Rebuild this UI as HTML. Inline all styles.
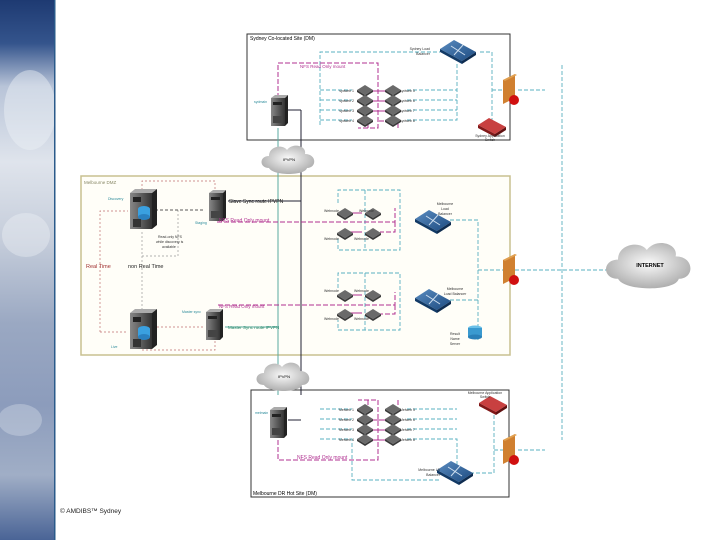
<!DOCTYPE html>
<html><head><meta charset="utf-8"><style>
html,body{margin:0;padding:0;background:#fff;width:720px;height:540px;overflow:hidden}
svg{display:block;font-family:"Liberation Sans",sans-serif}
</style></head><body>
<svg width="720" height="540" viewBox="0 0 720 540" xmlns="http://www.w3.org/2000/svg">
<defs>
<linearGradient id="sky" x1="0" y1="0" x2="0" y2="1">
<stop offset="0" stop-color="#1e3a72"/><stop offset="0.08" stop-color="#34548c"/>
<stop offset="0.16" stop-color="#b8c4d8"/><stop offset="0.3" stop-color="#dfe4ec"/>
<stop offset="0.45" stop-color="#c4ccda"/><stop offset="0.6" stop-color="#9aa8c2"/>
<stop offset="0.75" stop-color="#8c9cbc"/><stop offset="0.88" stop-color="#a0aec6"/><stop offset="1" stop-color="#4a6496"/>
</linearGradient>
<radialGradient id="cl" cx="0.5" cy="0.45" r="0.6"><stop offset="0" stop-color="#fafafa"/><stop offset="1" stop-color="#a8a8a8"/></radialGradient>
<linearGradient id="bl" x1="0" y1="0" x2="1" y2="1"><stop offset="0" stop-color="#5a8cc0"/><stop offset="1" stop-color="#1c4a80"/></linearGradient>
<linearGradient id="sv" x1="0" y1="0" x2="1" y2="0"><stop offset="0" stop-color="#888"/><stop offset="1" stop-color="#333"/></linearGradient>
<g id="sw"><polygon points="-8,0 0,-5 8,0 0,5" fill="#6a6a6a"/><polygon points="-8,0 0,5 8,0 8,2 0,7 -8,2" fill="#3a3a3a"/></g>
<g id="rt"><polygon points="-18,-3 -4,-12 18,0 4,9" fill="url(#bl)"/><polygon points="-18,-3 4,9 4,12 -18,0" fill="#123a66"/><polygon points="4,9 18,0 18,3 4,12" fill="#0e2c50"/><path d="M-7,-6 L7,3 M-4,3 L5,-7" stroke="#cde" stroke-width="1"/></g>
<g id="rr"><polygon points="-14,-2 -3,-9 14,0 3,7" fill="#c84040"/><polygon points="-14,-2 3,7 3,10 -14,1" fill="#801818"/><polygon points="3,7 14,0 14,3 3,10" fill="#601010"/></g>
<g id="srv"><rect x="-7" y="-14" width="14" height="28" fill="url(#sv)"/><polygon points="-7,-14 -3,-17 10,-17 7,-14" fill="#aaa"/><polygon points="7,-14 10,-17 10,11 7,14" fill="#222"/><rect x="-5" y="-10" width="9" height="3" fill="#222"/><rect x="-5" y="4" width="9" height="7" fill="#444"/></g>
<g id="dbs"><rect x="-11" y="-18" width="22" height="36" fill="url(#sv)"/><polygon points="-11,-18 -6,-22 16,-22 11,-18" fill="#aaa"/><polygon points="11,-18 16,-22 16,14 11,18" fill="#222"/><ellipse cx="3" cy="-2" rx="6" ry="3" fill="#3aa0e0"/><rect x="-3" y="-2" width="12" height="8" fill="#3aa0e0"/><ellipse cx="3" cy="6" rx="6" ry="3" fill="#2a80c0"/><rect x="-8" y="-14" width="8" height="5" fill="#222"/><rect x="-8" y="8" width="8" height="8" fill="#333"/></g>
<g id="fw"><polygon points="-7,-10 5,-16 5,8 -7,14" fill="#d08030"/><polygon points="-7,-10 5,-16 7,-15 -5,-9" fill="#e0a050"/><circle cx="4" cy="10" r="5" fill="#d01010"/></g>
<g id="cloud"><path d="M-20,8 C-30,8 -30,-4 -20,-4 C-20,-14 -6,-16 -2,-10 C4,-18 18,-14 16,-6 C28,-6 28,8 18,8 C16,16 -16,16 -20,8 Z" fill="url(#cl)"/></g>
</defs>
<rect x="0" y="0" width="54" height="540" fill="url(#sky)"/>
<ellipse cx="30" cy="110" rx="26" ry="40" fill="#eef1f6" opacity="0.45"/>
<ellipse cx="26" cy="235" rx="24" ry="22" fill="#f4f6fa" opacity="0.35"/>
<ellipse cx="20" cy="420" rx="22" ry="16" fill="#dfe5ef" opacity="0.35"/>
<rect x="54" y="0" width="1.5" height="540" fill="#2a5a8a"/>
<text x="60" y="513" font-size="6.5" fill="#222">© AMDIBS™ Sydney</text>

<rect x="247" y="34" width="263" height="106" fill="none" stroke="#333" stroke-width="1"/>
<text x="250" y="40" font-size="5" fill="#000">Sydney Co-located Site (DM)</text>
<rect x="81" y="176" width="429" height="179" fill="#fffef8" stroke="#c8c090" stroke-width="1.5"/>
<text x="84" y="184" font-size="4.5" fill="#886">Melbourne DMZ</text>
<rect x="251" y="390" width="258" height="107" fill="none" stroke="#333" stroke-width="1"/>
<text x="253" y="495" font-size="5" fill="#000">Melbourne DR Hot Site (DM)</text>

<line x1="278" y1="128" x2="278" y2="395" stroke="#5aaaa0" stroke-width="1"/>
<line x1="301" y1="110" x2="301" y2="395" stroke="#223" stroke-width="1"/>
<line x1="301" y1="110" x2="288" y2="110" stroke="#223"/>
<line x1="301" y1="420" x2="288" y2="420" stroke="#223"/>
<line x1="228" y1="201" x2="301" y2="201" stroke="#223"/>
<line x1="225" y1="327" x2="278" y2="327" stroke="#5aaaa0"/>

<g fill="none" stroke="#5ab0c0" stroke-width="0.9" stroke-dasharray="4,2">
<line x1="562" y1="65" x2="562" y2="440"/>
<line x1="515" y1="270" x2="612" y2="270"/>
<path d="M320,125 V52 H440"/><path d="M480,52 H492 V127"/><path d="M492,90 H505"/><path d="M518,90 H545"/><path d="M518,450 H545"/>
<path d="M320,90 H352 M320,100 H352 M320,110 H352 M320,120 H352"/>
<path d="M407,90 H457 M407,100 H457 M407,110 H457 M407,120 H457 V62"/>
<path d="M338,203 V190 H400 V250 H338 V238 M365,190 V250"/>
<path d="M450,220 H478 V340"/><path d="M478,270 H505"/>
<path d="M338,288 V273 H400 V330 H338 V320 M365,273 V330"/><path d="M450,300 H478"/>
<path d="M320,409 H352 M320,419 H352 M320,429 H352 M320,439 H352 V480 H440"/>
<path d="M407,409 H457 M407,419 H457 M407,429 H457 M407,439 H457 V465"/>
<path d="M470,473 H494 V412"/><path d="M494,450 H505"/>
</g>
<g fill="none" stroke="#b03090" stroke-width="1" stroke-dasharray="5,2">
<path d="M278,98 V63 H378 V128 H358"/>
<path d="M368,128 V121 M398,128 V121 H378"/>
<path d="M278,440 V460 H378 V400 H358 M368,400 V407 M398,400 V407"/>
<path d="M217,222 H395 V208 M395,222 V232 H380"/>
<path d="M218,305 H395 V292 M395,305 V314 H380"/>
</g>
<g stroke="#b03090" stroke-width="1"><path d="M372,91 H388 M372,101 H388 M372,111 H388 M372,420 H388 M372,430 H388 M372,440 H388 M350,213 H362 M350,232 H362 M350,295 H362 M350,313 H362"/></g>
<g fill="none" stroke="#c07070" stroke-width="0.7" stroke-dasharray="2,2">
<path d="M100,332 V211 H128"/><path d="M100,332 H128"/><path d="M142,190 V181 H215 V190"/><path d="M142,350 H215 V340"/><path d="M153,327 H205"/>
</g>
<g fill="none" stroke="#999" stroke-width="0.7" stroke-dasharray="2,2"><path d="M142,232 V330"/><path d="M142,256 H178 V210"/></g>
<line x1="155" y1="210" x2="205" y2="210" stroke="#222" stroke-width="0.8" stroke-dasharray="3,2"/>

<use href="#srv" x="278" y="112"/><use href="#srv" x="216" y="207"/><use href="#srv" x="213" y="326"/><use href="#srv" x="277" y="424"/>
<use href="#dbs" x="141" y="211"/><use href="#dbs" x="141" y="331"/>
<use href="#cloud" x="289" y="160"/><use href="#cloud" x="284" y="377"/>
<g transform="translate(650,266) scale(1.6)"><use href="#cloud"/></g>
<text x="650" y="267" font-size="5.5" font-weight="bold" text-anchor="middle">INTERNET</text>
<text x="289" y="161" font-size="4" text-anchor="middle">IPVPN</text>
<text x="284" y="378" font-size="4" text-anchor="middle">IPVPN</text>
<use href="#rt" x="458" y="52"/><use href="#rt" x="433" y="222"/><use href="#rt" x="433" y="301"/><use href="#rt" x="455" y="473"/>
<use href="#rr" x="492" y="127"/><use href="#rr" x="493" y="405"/>
<use href="#fw" x="510" y="90"/><use href="#fw" x="510" y="270"/><use href="#fw" x="510" y="450"/>
<ellipse cx="475" cy="328" rx="7" ry="2.5" fill="#6ac0e8"/><rect x="468" y="328" width="14" height="9" fill="#3a9ad0"/><ellipse cx="475" cy="337" rx="7" ry="2.5" fill="#2a80b8"/>
<g>
<use href="#sw" x="365" y="90"/><use href="#sw" x="365" y="100"/><use href="#sw" x="365" y="110"/><use href="#sw" x="365" y="120"/>
<use href="#sw" x="393" y="90"/><use href="#sw" x="393" y="100"/><use href="#sw" x="393" y="110"/><use href="#sw" x="393" y="120"/>
<use href="#sw" x="365" y="409"/><use href="#sw" x="365" y="419"/><use href="#sw" x="365" y="429"/><use href="#sw" x="365" y="439"/>
<use href="#sw" x="393" y="409"/><use href="#sw" x="393" y="419"/><use href="#sw" x="393" y="429"/><use href="#sw" x="393" y="439"/>
<use href="#sw" x="345" y="213"/><use href="#sw" x="373" y="213"/><use href="#sw" x="345" y="233"/><use href="#sw" x="373" y="233"/>
<use href="#sw" x="345" y="295"/><use href="#sw" x="373" y="295"/><use href="#sw" x="345" y="314"/><use href="#sw" x="373" y="314"/>
</g>
<g font-size="3.5" fill="#333">
<text x="354" y="92" text-anchor="end">sydweb 1</text><text x="354" y="102" text-anchor="end">sydweb 2</text><text x="354" y="112" text-anchor="end">sydweb 3</text><text x="354" y="122" text-anchor="end">sydweb 4</text>
<text x="400" y="92">sydweb 5</text><text x="400" y="102">sydweb 6</text><text x="400" y="112">sydweb 7</text><text x="400" y="122">sydweb 8</text>
<text x="354" y="411" text-anchor="end">Melweb 1</text><text x="354" y="421" text-anchor="end">Melweb 2</text><text x="354" y="431" text-anchor="end">Melweb 3</text><text x="354" y="441" text-anchor="end">Melweb 4</text>
<text x="400" y="411">Melweb 5</text><text x="400" y="421">Melweb 6</text><text x="400" y="431">Melweb 7</text><text x="400" y="441">Melweb 8</text>
<text x="324" y="212">Webnode</text><text x="359" y="212">Webnode</text><text x="324" y="240">Webnode</text><text x="354" y="240">Webnode</text>
<text x="324" y="292">Webnode</text><text x="354" y="292">Webnode</text><text x="324" y="320">Webnode</text><text x="354" y="320">Webnode</text>
<text x="430" y="50" text-anchor="end">Sydney Load</text><text x="430" y="55" text-anchor="end">Balancer</text>
<text x="490" y="137" text-anchor="middle">Sydney Application</text><text x="490" y="141" text-anchor="middle">Switch</text>
<text x="445" y="205" text-anchor="middle">Melbourne</text><text x="445" y="210" text-anchor="middle">Load</text><text x="445" y="215" text-anchor="middle">Balancer</text>
<text x="455" y="290" text-anchor="middle">Melbourne</text><text x="455" y="295" text-anchor="middle">Load Balancer</text>
<text x="455" y="335" text-anchor="middle">Result</text><text x="455" y="340" text-anchor="middle">Name</text><text x="455" y="345" text-anchor="middle">Server</text>
<text x="485" y="394" text-anchor="middle">Melbourne Application</text><text x="485" y="398" text-anchor="middle">Switch</text>
<text x="440" y="471" text-anchor="end">Melbourne LB</text><text x="440" y="476" text-anchor="end">Balancer</text>
<text x="254" y="103" fill="#2a8a9a">sydmain</text><text x="255" y="414" fill="#2a8a9a">melmain</text>
<text x="108" y="200" fill="#2a8a9a">Discovery</text><text x="195" y="224" fill="#2a8a9a">Staging</text>
<text x="111" y="348" fill="#2a8a9a">Live</text><text x="182" y="313" fill="#2a8a9a">Master sync</text>
<text x="158" y="238">Read-only NFS</text><text x="156" y="243">while discovery is</text><text x="162" y="248">available</text>
</g>
<text x="229" y="203" font-size="5" fill="#222">Slave Sync route IPVPN</text>
<text x="228" y="329" font-size="4.5" fill="#2a8a6a">Master Sync route IPVPN</text>
<text x="219" y="222" font-size="5" fill="#b03090">NFS Read Only mount</text>
<text x="219" y="308" font-size="4.5" fill="#b03090">NFS Read Only mount</text>
<text x="300" y="68" font-size="4.5" fill="#b03090">NFS Read Only mount</text>
<text x="297" y="459" font-size="5" fill="#b03090">NFS Read Only mount</text>
<text x="86" y="268" font-size="5.5" fill="#a03030">Real Time</text>
<text x="128" y="268" font-size="5.5" fill="#222">non Real Time</text>
</svg>
</body></html>
